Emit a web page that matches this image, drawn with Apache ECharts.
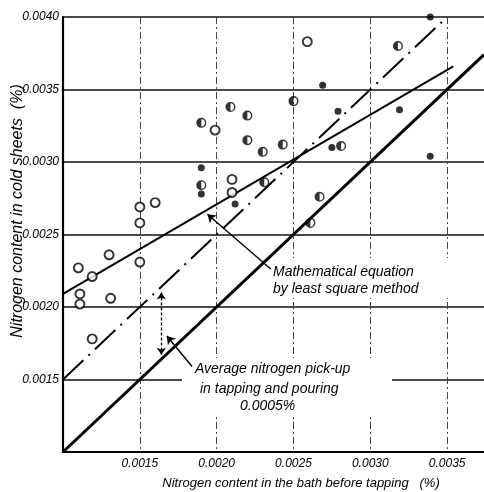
<!DOCTYPE html>
<html>
<head>
<meta charset="utf-8">
<script src="https://cdn.jsdelivr.net/npm/echarts@6/dist/echarts.min.js"></script>
<style>html,body{margin:0;padding:0;background:#fff}#c{width:484px;height:492px}</style>
</head>
<body>
<div id="c"></div>
<script>
// ---- data ----
const xTickLabels = ['0.0015', '0.0020', '0.0025', '0.0030', '0.0035'];
const yTickLabels = ['0.0015', '0.0020', '0.0025', '0.0030', '0.0035', '0.0040'];

const openPoints = [
  [0.00150, 0.00269], [0.00160, 0.00272], [0.00150, 0.00258], [0.00130, 0.00236],
  [0.00110, 0.00227], [0.00119, 0.00221], [0.00150, 0.00231], [0.00111, 0.00209],
  [0.00111, 0.00202], [0.00131, 0.00206], [0.00119, 0.00178], [0.00199, 0.00322],
  [0.00210, 0.00288], [0.00210, 0.00279], [0.00259, 0.00383]
];
const halfPoints = [
  [0.00209, 0.00338], [0.00220, 0.00332], [0.00190, 0.00327], [0.00250, 0.00342],
  [0.00220, 0.00315], [0.00230, 0.00307], [0.00243, 0.00312], [0.00190, 0.00284],
  [0.00231, 0.00286], [0.00261, 0.00258], [0.00267, 0.00276], [0.00318, 0.00380],
  [0.00281, 0.00311]
];
const filledPoints = [
  [0.00190, 0.00296], [0.00190, 0.00278], [0.00212, 0.00271], [0.00339, 0.00400],
  [0.00269, 0.00353], [0.00279, 0.00335], [0.00319, 0.00336], [0.00275, 0.00310],
  [0.00339, 0.00304]
];

const identityLine = [[0.0010, 0.0010], [0.00374, 0.00374]];
const pickupLine = [[0.0010, 0.0015], [0.0035, 0.0040]];
const leastSquareLine = [[0.0010, 0.00209], [0.00354, 0.00366]];

const lsArrow = [[0.002352, 0.002262], [0.00194, 0.00264]];
const pickupArrow = [[0.00164, 0.00210], [0.00164, 0.00167]];
const pickupLeader = [[0.00184, 0.00159], [0.001676, 0.00180]];

const yTitle = 'Nitrogen content in cold sheets  (%)';
const xTitle = 'Nitrogen content in the bath before tapping   (%)';
const lsText = ['Mathematical equation', 'by least square method'];
const pickupText = ['Average nitrogen pick-up', 'in tapping and pouring', '0.0005%'];

// ---- chart ----
const FONT = 'Liberation Sans';
const halfSymbol = 'path://M10,0 A10,10 0 0,1 10,20 A10,10 0 0,1 10,0 Z M10,2.8 L10,17.2 A7.2,7.2 0 0,0 10,2.8 Z';

const chart = echarts.init(document.getElementById('c'), null, {renderer: 'canvas'});

function fmt(list) {
  return function (v) { const s = Number(v).toFixed(4); return list.indexOf(s) >= 0 ? s : ''; };
}
function seg(pair, syms) {
  return [{coord: pair[0], symbol: syms[0]}, {coord: pair[1], symbol: syms[1]}];
}

const textStyleBase = {fontFamily: FONT, fontStyle: 'italic', fill: '#000'};

chart.setOption({
  backgroundColor: '#fff',
  animation: false,
  grid: {left: 63, right: 0, top: 17, bottom: 40, containLabel: false},
  xAxis: {
    type: 'value', min: 0.0010, max: 0.00374, interval: 0.0005,
    axisLine: {show: true, onZero: false, lineStyle: {color: '#000', width: 2.2}},
    axisTick: {show: false},
    axisLabel: {formatter: fmt(xTickLabels), color: '#000', fontFamily: FONT, fontStyle: 'italic', fontSize: 12, margin: 6, showMaxLabel: false},
    splitLine: {show: true, showMinLine: false, showMaxLine: false, lineStyle: {color: '#444', width: 1, type: [7, 3, 2, 3]}}
  },
  yAxis: {
    type: 'value', min: 0.0010, max: 0.0040, interval: 0.0005,
    axisLine: {show: true, onZero: false, lineStyle: {color: '#000', width: 2.2}},
    axisTick: {show: false},
    axisLabel: {formatter: fmt(yTickLabels), color: '#000', fontFamily: FONT, fontStyle: 'italic', fontSize: 12, margin: 4},
    splitLine: {show: true, lineStyle: {color: '#111', width: 1.6}}
  },
  graphic: [
    {type: 'rect', z: 1, shape: {x: 268, y: 258, width: 186, height: 40}, style: {fill: '#fff'}},
    {type: 'rect', z: 1, shape: {x: 182, y: 358, width: 210, height: 58}, style: {fill: '#fff'}},
    {type: 'text', z: 3, x: 273, y: 272, style: Object.assign({text: lsText[0], fontSize: 14, textAlign: 'left', textVerticalAlign: 'middle'}, textStyleBase)},
    {type: 'text', z: 3, x: 273, y: 289, style: Object.assign({text: lsText[1], fontSize: 14, textAlign: 'left', textVerticalAlign: 'middle'}, textStyleBase)},
    {type: 'text', z: 3, x: 195, y: 369, style: Object.assign({text: pickupText[0], fontSize: 14, textAlign: 'left', textVerticalAlign: 'middle'}, textStyleBase)},
    {type: 'text', z: 3, x: 200, y: 389, style: Object.assign({text: pickupText[1], fontSize: 14, textAlign: 'left', textVerticalAlign: 'middle'}, textStyleBase)},
    {type: 'text', z: 3, x: 240, y: 406, style: Object.assign({text: pickupText[2], fontSize: 14, textAlign: 'left', textVerticalAlign: 'middle'}, textStyleBase)},
    {type: 'text', z: 3, x: 18, y: 211, rotation: Math.PI / 2, style: Object.assign({text: yTitle, fontSize: 16, textAlign: 'center', textVerticalAlign: 'middle'}, textStyleBase)},
    {type: 'text', z: 3, x: 301, y: 483, style: Object.assign({text: xTitle, fontSize: 13, textAlign: 'center', textVerticalAlign: 'middle'}, textStyleBase)}
  ],
  series: [
    {type: 'line', data: identityLine, symbol: 'none', z: 2, lineStyle: {color: '#000', width: 3}},
    {type: 'line', data: pickupLine, symbol: 'none', z: 2, lineStyle: {color: '#000', width: 2, type: [28, 7, 2, 7]}},
    {type: 'line', data: leastSquareLine, symbol: 'none', z: 2, lineStyle: {color: '#000', width: 2},
      markLine: {silent: true, symbolSize: 8, label: {show: false},
        lineStyle: {color: '#000', width: 1.4, type: 'solid'},
        data: [
          seg(lsArrow, ['none', 'arrow']),
          seg(pickupLeader, ['none', 'arrow'])
        ]}},
    {type: 'line', data: [], symbol: 'none',
      markLine: {silent: true, symbolSize: 7, label: {show: false},
        lineStyle: {color: '#000', width: 1.3, type: [3, 2]},
        data: [seg(pickupArrow, ['arrow', 'arrow'])]}},
    {type: 'scatter', data: openPoints, z: 4, symbol: 'circle', symbolSize: 9,
      itemStyle: {color: '#fff', borderColor: '#000', borderWidth: 1.9}},
    {type: 'scatter', data: halfPoints, z: 4, symbol: halfSymbol, symbolSize: 10, symbolKeepAspect: true,
      itemStyle: {color: '#000', borderWidth: 0}},
    {type: 'scatter', data: filledPoints, z: 4, symbol: 'circle', symbolSize: 7,
      itemStyle: {color: '#000', borderWidth: 0}}
  ]
});
</script>
</body>
</html>
